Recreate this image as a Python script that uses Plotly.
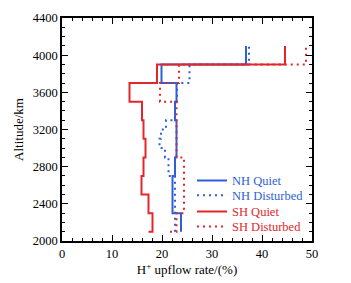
import plotly.graph_objects as go

# Altitude bin edges (km), 100-km bins from 2100 to 4100
alt_edges = list(range(2100, 4101, 100))

# H+ upflow rate (%) per 100-km bin, bottom (2100-2200) to top (4000-4100)
nh_quiet = [23.8, 23.8, 22.1, 22.1, 22.1, 22.1, 22.6, 22.6, 22.9, 22.9,
            22.9, 22.9, 22.6, 22.6, 22.9, 22.9, 19.9, 19.9, 36.8, 36.8]
nh_disturbed = [22.6, 22.6, 22.6, 22.6, 22.6, 22.6, 21.3, 21.3, 20.6, 19.5,
                19.8, 20.8, 22.6, 22.6, 23.0, 23.0, 25.5, 25.5, 37.4, 37.4]
sh_quiet = [18.1, 18.1, 17.3, 17.3, 15.9, 15.9, 16.3, 16.3, 16.7, 16.7,
            16.3, 16.3, 16.0, 16.0, 13.5, 13.5, 19.0, 19.0, 44.6, 44.6]
sh_disturbed = [22.9, 22.9, 24.4, 24.4, 24.4, 24.4, 24.4, 24.4, 22.9, 22.9,
                22.9, 22.9, 22.9, 22.9, 19.6, 19.6, 23.4, 23.4, 48.8, 48.8]

# start values of the short horizontal stub at the lowest altitude (None = no stub)
stub_start = {"NH Quiet": None, "NH Disturbed": None, "SH Quiet": 17.3, "SH Disturbed": 21.6}

x_ticks = [0, 10, 20, 30, 40, 50]
y_ticks = [2000, 2400, 2800, 3200, 3600, 4000, 4400]

BLUE = "#2f5fd6"
RED = "#e3262b"
FONT = "Liberation Serif, Times New Roman, serif"

series = [
    ("NH Quiet", nh_quiet, BLUE, "solid", "legend2"),
    ("NH Disturbed", nh_disturbed, BLUE, "2px,4px", "legend3"),
    ("SH Quiet", sh_quiet, RED, "solid", "legend4"),
    ("SH Disturbed", sh_disturbed, RED, "2px,4px", "legend5"),
]

fig = go.Figure()
for name, vals, col, dash, leg in series:
    xs, ys = [], []
    if stub_start[name] is not None:
        xs.append(stub_start[name]); ys.append(alt_edges[0])
    xs += list(vals) + [vals[-1]]
    ys += alt_edges[:len(vals)] + [alt_edges[len(vals)]]
    fig.add_trace(go.Scatter(
        x=xs, y=ys, mode="lines", line_shape="vh",
        line=dict(color=col, width=2, dash=dash),
        name=f"<span style='color:{col}'>{name}</span>",
        legend=leg,
    ))

axis_common = dict(
    showline=True, linecolor="black", linewidth=1.5, mirror="ticks",
    ticks="inside", ticklen=6, tickwidth=1, tickcolor="black",
    showgrid=False, zeroline=False,
    tickfont=dict(family=FONT, size=12.5, color="black"),
)

fig.update_xaxes(
    range=[0, 50], tickvals=x_ticks,
    minor=dict(ticks="inside", dtick=2, ticklen=3, tickcolor="black"),
    title=dict(text="H<sup>+</sup> upflow rate/(%)", font=dict(family=FONT, size=13, color="black"), standoff=2),
    **axis_common,
)
fig.update_yaxes(
    range=[2000, 4400], tickvals=y_ticks,
    minor=dict(ticks="inside", dtick=100, ticklen=3, tickcolor="black"),
    title=dict(text="Altitude/km", font=dict(family=FONT, size=13, color="black"), standoff=6),
    **axis_common,
)

leg_common = dict(x=0.52, xanchor="left", yanchor="middle",
                  bgcolor="rgba(0,0,0,0)", borderwidth=0,
                  font=dict(family=FONT, size=12.5), itemwidth=30)
fig.update_layout(
    width=351, height=283,
    margin=dict(l=62, r=39, t=11, b=35),
    paper_bgcolor="white", plot_bgcolor="white",
    font=dict(family=FONT, size=12.5, color="black"),
    legend2=dict(y=0.270, **leg_common),
    legend3=dict(y=0.203, **leg_common),
    legend4=dict(y=0.131, **leg_common),
    legend5=dict(y=0.063, **leg_common),
    showlegend=True,
)

fig.write_html("out.html", config={"displayModeBar": False},
               post_script="document.body.style.margin='0';document.body.style.overflow='hidden';")
